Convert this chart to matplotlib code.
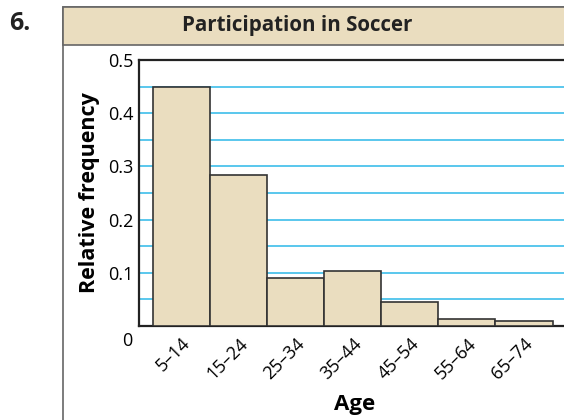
import matplotlib.pyplot as plt
from matplotlib.patches import Rectangle

# data
ages = ['5–14', '15–24', '25–34', '35–44', '45–54', '55–64', '65–74']
rel_freq = [0.45, 0.284, 0.09, 0.103, 0.045, 0.013, 0.009]
y_ticks = [0.1, 0.2, 0.3, 0.4, 0.5]
grid_levels = [0.05, 0.1, 0.15, 0.2, 0.25, 0.3, 0.35, 0.4, 0.45]

plt.rcParams['font.family'] = ['Open Sans', 'DejaVu Sans']

beige = '#EADDBF'
grid_blue = '#3DBDEA'

fig = plt.figure(figsize=(5.64, 4.2), dpi=100)
W, H = 564, 420

# outer frame and title band (pixel coords -> figure fraction)
fig.patches.append(Rectangle((63 / W, -0.01), 1, (H - 7) / H + 0.01, transform=fig.transFigure,
                             facecolor='white', edgecolor='#666666', lw=1.2, zorder=-2))
fig.patches.append(Rectangle((63 / W, (H - 45) / H), 1, 38 / H, transform=fig.transFigure,
                             facecolor=beige, edgecolor='#666666', lw=1.2, zorder=-1))
fig.text(297 / W, (H - 26) / H, 'Participation in Soccer', ha='center', va='center',
         fontsize=14.8, fontweight='bold', color='#222222')
fig.text(9 / W, (H - 23) / H, '6.', ha='left', va='center', fontsize=18, fontweight='bold',
         color='#222222')

ax = fig.add_axes([139 / W, 94 / H, (W - 139) / W + 0.01, 266 / H])
ax.set_zorder(2)
ax.set_facecolor('none')

x = list(range(len(ages)))
ax.bar(x, rel_freq, width=1.0, align='edge', color=beige, edgecolor='#333333', lw=1.2, zorder=3)
for g in grid_levels:
    ax.axhline(g, color=grid_blue, lw=1.2, zorder=1)

ax.set_xlim(-0.246, 7.3)
ax.set_ylim(0, 0.5)

ax.set_yticks(y_ticks)
ax.set_yticklabels([str(t) for t in y_ticks], fontsize=13)
ax.tick_params(axis='y', length=0, pad=4)
fig.text(127 / W, (H - 341) / H, '0', ha='center', va='center', fontsize=13)

ax.set_xticks([i + 0.5 for i in x])
ax.set_xticklabels(ages, rotation=45, ha='right', rotation_mode='anchor', fontsize=13)
ax.tick_params(axis='x', length=0, pad=6)

ax.set_ylabel('Relative frequency', fontsize=15.5, fontweight='bold', labelpad=6)
ax.set_xlabel('Age', fontsize=16, fontweight='bold', labelpad=8)

for side in ['left', 'bottom', 'top']:
    ax.spines[side].set_linewidth(1.6)
    ax.spines[side].set_color('#222222')
ax.spines['right'].set_visible(False)

fig.savefig('out.png', dpi=100)
